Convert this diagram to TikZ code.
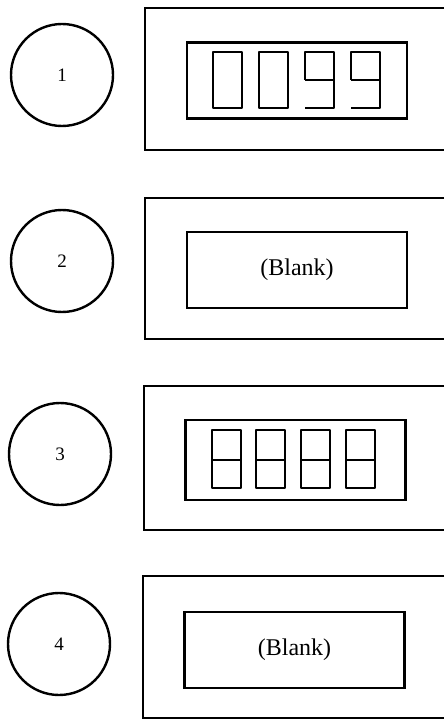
\documentclass[tikz,border=0pt]{standalone}
\usepackage{fontspec}
\setmainfont{Liberation Serif}
\usepackage{tikz}

\begin{document}
\begin{tikzpicture}[
  x=0.5pt,y=-0.5pt,
  numc/.style={draw,circle,line width=1.2pt,minimum size=51pt,inner sep=0pt,
    font=\fontsize{9.5}{9.5}\selectfont},
  disp/.style={draw,rectangle,line width=1.4pt,minimum width=110pt,
    minimum height=38pt,inner sep=0pt,font=\fontsize{12}{12}\selectfont},
  frame/.style={line width=1.3pt},
  seg/.style={line width=1.1pt,line join=round}
]
  \useasboundingbox (0,0) rectangle (444,721);

  % panel 1 : 0099
  \node[numc] (n1) at (62,75) {1};
  \draw[frame] (444,8) -- (145,8) -- (145,150) -- (444,150);
  \node[disp] (d1) at (297,80.5) {};
  \draw[seg] (213,52) rectangle (242,108);
  \draw[seg] (259,52) rectangle (288,108);
  \draw[seg] (305,80) -- (305,52) -- (334,52) -- (334,108) -- (305,108);
  \draw[seg] (305,80) -- (334,80);
  \draw[seg] (351,80) -- (351,52) -- (380,52) -- (380,108) -- (351,108);
  \draw[seg] (351,80) -- (380,80);

  % panel 2 : blank
  \node[numc] (n2) at (62,261) {2};
  \draw[frame] (444,198) -- (145,198) -- (145,339) -- (444,339);
  \node[disp] (d2) at (297,270) {(Blank)};

  % panel 3 : 8888
  \node[numc] (n3) at (60,454) {3};
  \draw[frame] (444,386) -- (144,386) -- (144,530) -- (444,530);
  \node[disp,minimum height=40pt] (d3) at (295.5,460) {};
  \draw[seg] (212,430) rectangle (241,488);
  \draw[seg] (212,460) -- (241,460);
  \draw[seg] (256,430) rectangle (285,488);
  \draw[seg] (256,460) -- (285,460);
  \draw[seg] (301,430) rectangle (330,488);
  \draw[seg] (301,460) -- (330,460);
  \draw[seg] (346,430) rectangle (375,488);
  \draw[seg] (346,460) -- (375,460);

  % panel 4 : blank
  \node[numc] (n4) at (59,644) {4};
  \draw[frame] (444,576) -- (143,576) -- (143,718) -- (444,718);
  \node[disp] (d4) at (294.5,650) {(Blank)};
\end{tikzpicture}
\end{document}
